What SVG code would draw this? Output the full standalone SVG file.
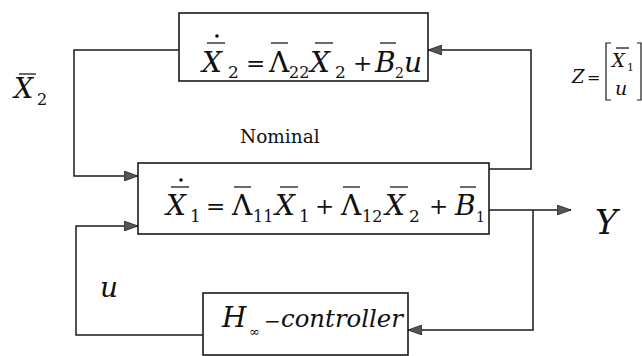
<svg xmlns="http://www.w3.org/2000/svg" width="642" height="356" viewBox="0 0 642 356">
<defs>
<style>
.box{fill:none;stroke:#1a1a1a;stroke-width:1.6}
.ln{fill:none;stroke:#1a1a1a;stroke-width:1.5}
.bar{stroke:#1a1a1a;stroke-width:1.3}
.t{font-family:"DejaVu Serif","Liberation Serif",serif;fill:#111}
.i{font-style:italic}
.eq{font-size:28px}
.sub{font-size:17px}
.op{font-size:23px}
</style>
<marker id="ah" viewBox="0 0 14 10" refX="14" refY="5" markerWidth="14" markerHeight="10" markerUnits="userSpaceOnUse" orient="auto">
<path d="M0,0 L14,5 L0,10 Z" fill="#555" stroke="#222" stroke-width="0.8"/>
</marker>
</defs>
<rect width="642" height="356" fill="#fff"/>

<g id="connectors">
<polyline class="ln" points="179,50 74,50 74,176 138,176" marker-end="url(#ah)"/>
<polyline class="ln" points="489,169 531,169 531,50 428,50" marker-end="url(#ah)"/>
<polyline class="ln" points="489,210 571,210" marker-end="url(#ah)"/>
<polyline class="ln" points="533,210 533,330 408,330" marker-end="url(#ah)"/>
<polyline class="ln" points="203,335 76,335 76,226 138,226" marker-end="url(#ah)"/>
</g>

<g id="state2">
<rect class="box" x="179" y="13" width="249" height="68"/>
<text class="t eq"><tspan class="i" x="202" y="72">X</tspan><tspan class="sub" x="228" y="78">2</tspan><tspan class="op" x="246" y="71">=</tspan><tspan x="269" y="72">Λ</tspan><tspan class="sub" x="289" y="78" style="font-size:16px">22</tspan><tspan class="i" x="310" y="72">X</tspan><tspan class="sub" x="335" y="78">2</tspan><tspan class="op" x="353" y="71">+</tspan><tspan class="i" x="375" y="72">B</tspan><tspan class="sub" x="395" y="78" style="font-size:14px">2</tspan><tspan class="i" x="404" y="72">u</tspan></text>
<line class="bar" x1="207" y1="43" x2="225" y2="43"/>
<circle cx="217" cy="36" r="1.8" fill="#111"/>
<line class="bar" x1="271" y1="43" x2="288" y2="43"/>
<line class="bar" x1="315" y1="43" x2="333" y2="43"/>
<line class="bar" x1="380" y1="43" x2="396" y2="43"/>
</g>

<g id="nominal">
<text class="t" x="240" y="143" style="font-size:18.5px">Nominal</text>
<rect class="box" x="138" y="163" width="351" height="71"/>
<text class="t eq"><tspan class="i" x="166" y="215">X</tspan><tspan class="sub" x="190" y="222">1</tspan><tspan class="op" x="206" y="214">=</tspan><tspan x="232" y="215">Λ</tspan><tspan class="sub" x="253" y="222" style="font-size:16px">11</tspan><tspan class="i" x="275" y="215">X</tspan><tspan class="sub" x="299" y="222">1</tspan><tspan class="op" x="315" y="214">+</tspan><tspan x="341" y="215">Λ</tspan><tspan class="sub" x="362" y="222" style="font-size:16px">12</tspan><tspan class="i" x="385" y="215">X</tspan><tspan class="sub" x="409" y="222">2</tspan><tspan class="op" x="429" y="214">+</tspan><tspan class="i" x="455" y="215">B</tspan><tspan class="sub" x="476" y="222" style="font-size:14px">1</tspan></text>
<line class="bar" x1="171" y1="187" x2="189" y2="187"/>
<circle cx="181" cy="180" r="1.8" fill="#111"/>
<line class="bar" x1="234" y1="187" x2="251" y2="187"/>
<line class="bar" x1="280" y1="187" x2="298" y2="187"/>
<line class="bar" x1="343" y1="187" x2="360" y2="187"/>
<line class="bar" x1="390" y1="187" x2="408" y2="187"/>
<line class="bar" x1="460" y1="187" x2="476" y2="187"/>
</g>

<g id="controller">
<rect class="box" x="203" y="293" width="205" height="62"/>
<text class="t"><tspan class="i" x="222" y="327" style="font-size:28px">H</tspan><tspan x="249" y="336" style="font-size:13px">∞</tspan><tspan x="264" y="328" style="font-size:20px">−</tspan><tspan class="i" x="281" y="327" style="font-size:25px" textLength="122" lengthAdjust="spacingAndGlyphs">controller</tspan></text>
</g>

<g id="labels">
<text class="t i" x="14" y="98" style="font-size:27px">X</text>
<text class="t" x="37" y="105" style="font-size:16px">2</text>
<line class="bar" x1="19" y1="74" x2="36" y2="74"/>
<text class="t i" x="100" y="297" style="font-size:28px">u</text>
<text class="t i" x="595" y="234" style="font-size:34px">Y</text>
</g>

<g id="zdef">
<text class="t i" x="572" y="83" style="font-size:18px">Z</text>
<text class="t" x="587" y="83" style="font-size:16px">=</text>
<path class="ln" d="M611,43 L606,43 L606,100 L611,100" style="stroke-width:1.2"/>
<path class="ln" d="M637,43 L641,43 L641,100 L637,100" style="stroke-width:1.2"/>
<text class="t i" x="612" y="67" style="font-size:18px">X</text>
<text class="t" x="627" y="71" style="font-size:11px">1</text>
<line class="bar" x1="616" y1="48" x2="629" y2="48"/>
<text class="t i" x="615" y="95" style="font-size:19px">u</text>
</g>
</svg>
